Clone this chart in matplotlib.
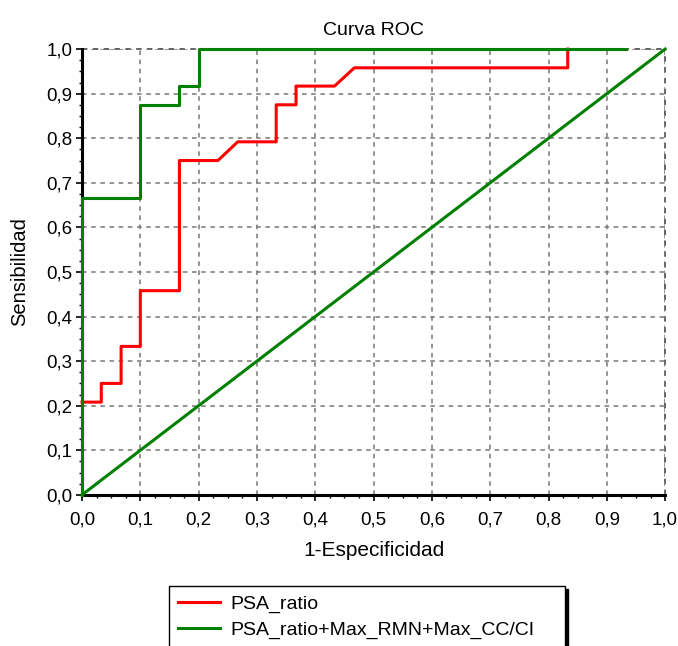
import matplotlib
matplotlib.use("Agg")
import matplotlib.pyplot as plt
import numpy as np
from matplotlib.ticker import MultipleLocator, FuncFormatter

plt.rcParams['font.family'] = ['Liberation Sans', 'DejaVu Sans']

# curva ROC de cada modelo (1-especificidad, sensibilidad)
psa_x = [0.0, 0.033, 0.033, 0.067, 0.067, 0.1, 0.1, 0.167, 0.167,
         0.233, 0.267, 0.333, 0.333, 0.367, 0.367, 0.433, 0.467, 0.833, 0.833]
psa_y = [0.208, 0.208, 0.25, 0.25, 0.333, 0.333, 0.458, 0.458, 0.75,
         0.75, 0.792, 0.792, 0.875, 0.875, 0.917, 0.917, 0.958, 0.958, 1.0]

comb_x = [0.0, 0.0, 0.1, 0.1, 0.167, 0.167, 0.2, 0.2, 0.933]
comb_y = [0.0, 0.667, 0.667, 0.875, 0.875, 0.917, 0.917, 1.0, 1.0]

ref_x = [0.0, 1.0]
ref_y = [0.0, 1.0]

etiquetas = ['PSA_ratio', 'PSA_ratio+Max_RMN+Max_CC/CI']

fig = plt.figure(figsize=(6.78, 6.46), dpi=100)
ax = fig.add_axes([0.121, 0.234, 0.860, 0.690])

ax.plot(ref_x, ref_y, color='#008000', lw=2.2, zorder=3, clip_on=False)
ax.plot(psa_x, psa_y, color='#ff0000', lw=2.2, zorder=3, clip_on=False, label=etiquetas[0])
ax.plot(comb_x, comb_y, color='#008000', lw=2.2, zorder=4, clip_on=False, label=etiquetas[1])

ax.set_xlim(0, 1)
ax.set_ylim(0, 1)

ax.xaxis.set_major_locator(MultipleLocator(0.1))
ax.yaxis.set_major_locator(MultipleLocator(0.1))
ax.xaxis.set_minor_locator(MultipleLocator(0.025))
ax.yaxis.set_minor_locator(MultipleLocator(0.025))
coma = FuncFormatter(lambda v, p: ('%.1f' % v).replace('.', ','))
ax.xaxis.set_major_formatter(coma)
ax.yaxis.set_major_formatter(coma)

ax.tick_params(which='major', direction='out', length=4, width=1.2, labelsize=13.5)
ax.tick_params(axis='x', which='major', pad=8)
ax.tick_params(axis='y', which='major', pad=3)
ax.tick_params(which='minor', direction='out', length=2.5, width=1)

ax.grid(True, which='major', color='#777777', ls=(0, (3, 3)), lw=1.1)
for s in ['top', 'right']:
    ax.spines[s].set_visible(False)
for s in ['left', 'bottom']:
    ax.spines[s].set_linewidth(2.2)
    ax.spines[s].set_color('black')
# bordes superior y derecho como linea de rejilla
ax.axhline(1.0, color='#555555', ls=(0, (3, 3)), lw=1.3, clip_on=False, zorder=1)
ax.axvline(1.0, color='#555555', ls=(0, (3, 3)), lw=1.3, clip_on=False, zorder=1)

ax.set_title('Curva ROC', fontsize=14, pad=10)
ax.set_xlabel('1-Especificidad', fontsize=15, labelpad=9)
ax.set_ylabel('Sensibilidad', fontsize=14.5, labelpad=12)

leg = fig.legend(loc='upper left', bbox_to_anchor=(0.249, 0.0929, 0.585, 0.0),
                 mode='expand', borderaxespad=0, fontsize=14, frameon=True,
                 fancybox=False, handlelength=2.2, handletextpad=0.5,
                 labelspacing=0.45, borderpad=0.45,
                 shadow={'color': 'black', 'alpha': 1.0})
leg.get_frame().set_edgecolor('black')
leg.get_frame().set_linewidth(1.0)

fig.savefig('out.png', dpi=100)
